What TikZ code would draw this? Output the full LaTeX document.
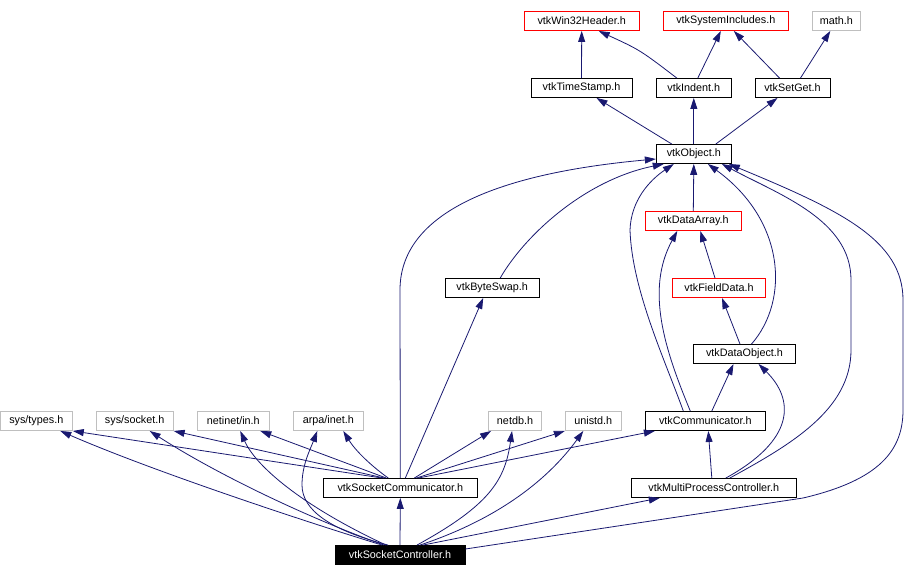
\documentclass[tikz,border=0pt]{standalone}
\usepackage{fontspec}
\setmainfont{Liberation Sans}
\usepackage{tikz}
\usetikzlibrary{arrows.meta}
\definecolor{cEdge}{RGB}{25,25,112}
\definecolor{cGrey}{RGB}{191,191,191}

\begin{document}
\begin{tikzpicture}[x=1pt, y=-1pt, font=\fontsize{10.8}{12}\selectfont,
	hdr/.style={draw=black, line width=0.9pt, fill=white, minimum height=19pt, inner sep=1pt},
	hdrred/.style={hdr, draw=red}, sysh/.style={hdr, draw=cGrey}, root/.style={hdr, fill=black, text=white},
	dep/.style={cEdge, line width=0.8pt, -{Triangle[length=11pt,width=7pt]}}]
	\useasboundingbox (0,0) rectangle (920,576);
	% headers, top to bottom
	\node[hdrred, minimum width=115] (win) at (581.7,21) {vtkWin32Header.h};
	\node[hdrred, minimum width=125] (sysinc) at (725.8,21) {vtkSystemIncludes.h};
	\node[sysh, minimum width=48] (math) at (836.3,21) {math.h};
	\node[hdr, minimum width=101] (tstamp) at (581.5,88) {vtkTimeStamp.h};
	\node[hdr, minimum width=75] (indent) at (693.8,88) {vtkIndent.h};
	\node[hdr, minimum width=75] (setget) at (792.5,88) {vtkSetGet.h};
	\node[hdr, minimum width=75] (object) at (693.8,154) {vtkObject.h};
	\node[hdrred, minimum width=96] (darray) at (693.3,221) {vtkDataArray.h};
	\node[hdr, minimum width=94] (bswap) at (492.2,288) {vtkByteSwap.h};
	\node[hdrred, minimum width=93] (fdata) at (719,288) {vtkFieldData.h};
	\node[hdr, minimum width=102] (dobj) at (744.5,354) {vtkDataObject.h};
	\node[sysh, minimum width=72] (types) at (36.3,421) {sys/types.h};
	\node[sysh, minimum width=77] (socket) at (134.7,421) {sys/socket.h};
	\node[sysh, minimum width=72] (netin) at (233.3,421) {netinet/in.h};
	\node[sysh, minimum width=70] (inet) at (328.3,421) {arpa/inet.h};
	\node[sysh, minimum width=53] (netdb) at (515,421) {netdb.h};
	\node[sysh, minimum width=56] (unistd) at (593.3,421) {unistd.h};
	\node[hdr, minimum width=120] (comm) at (705.3,421) {vtkCommunicator.h};
	\node[hdr, minimum width=154] (scomm) at (400.3,488) {vtkSocketCommunicator.h};
	\node[hdr, minimum width=165] (mpc) at (713.8,488) {vtkMultiProcessController.h};
	\node[root, minimum width=130] (sctrl) at (400,555) {vtkSocketController.h};
	% includes
	\draw[dep] (tstamp.north) -- (win.south);
	\draw[dep] ([xshift=-17]indent.north) .. controls (640,50) .. ([xshift=17]win.south);
	\draw[dep] ([xshift=4]indent.north) -- ([xshift=-5]sysinc.south);
	\draw[dep] ([xshift=-13]setget.north) -- ([xshift=8]sysinc.south);
	\draw[dep] ([xshift=8]setget.north) -- ([xshift=-6]math.south);
	\draw[dep] ([xshift=-22]object.north) -- ([xshift=15]tstamp.south);
	\draw[dep] (object.north) -- (indent.south);
	\draw[dep] ([xshift=22]object.north) -- ([xshift=-15]setget.south);
	\draw[dep] (darray.north) -- (object.south);
	\draw[dep] ([xshift=8]bswap.north) .. controls (525,235) and (585,180) .. ([xshift=-30]object.south);
	\draw[dep] ([xshift=-4]fdata.north) -- ([xshift=7]darray.south);
	\draw[dep] ([xshift=-4.5]dobj.north) -- ([xshift=3]fdata.south);
	\draw[dep] ([xshift=7]dobj.north) .. controls (790,300) and (785,220) .. ([xshift=14]object.south);
	\draw[dep] ([xshift=-22]comm.north) .. controls (665,360) and (632,290) .. (630,230) .. controls (631,200) and (650,180) .. ([xshift=-20]object.south);
	\draw[dep] ([xshift=-15]comm.north) .. controls (665,350) and (645,290) .. ([xshift=-16]darray.south);
	\draw[dep] ([xshift=6.5]comm.north) -- ([xshift=-11]dobj.south);
	\draw[dep] ([xshift=-2]mpc.north) -- ([xshift=3]comm.south);
	\draw[dep] ([xshift=12]mpc.north) .. controls (795,440) and (795,400) .. ([xshift=14]dobj.south);
	\draw[dep] ([xshift=16]mpc.north) .. controls (790,445) and (851,410) .. (851,350) -- (851,280) .. controls (851,220) and (780,195) .. ([xshift=28]object.south);
	\draw[dep] (scomm.north) -- (400,290) .. controls (400,220) and (480,175) .. ([yshift=-5]object.west);
	\draw[dep] ([xshift=5]scomm.north) -- ([xshift=-9]bswap.south);
	\draw[dep] ([xshift=-18]scomm.north) -- (types.south east);
	\draw[dep] ([xshift=-16]scomm.north) -- (socket.south east);
	\draw[dep] ([xshift=-14]scomm.north) -- ([xshift=27]netin.south);
	\draw[dep] ([xshift=-12]scomm.north) .. controls (370,465) and (355,450) .. ([xshift=15]inet.south);
	\draw[dep] ([xshift=14]scomm.north) -- ([xshift=3]netdb.south west);
	\draw[dep] ([xshift=16]scomm.north) -- (unistd.south west);
	\draw[dep] ([xshift=18]scomm.north) -- ([xshift=10]comm.south west);
	\draw[dep] (sctrl.north) -- (scomm.south);
	\draw[dep] ([xshift=-18]sctrl.north) .. controls (300,520) and (150,470) .. ([xshift=24]types.south);
	\draw[dep] ([xshift=-16]sctrl.north) .. controls (300,515) and (210,470) .. ([xshift=15]socket.south);
	\draw[dep] ([xshift=-14]sctrl.north) .. controls (300,505) and (255,465) .. ([xshift=7]netin.south);
	\draw[dep] ([xshift=-12]sctrl.north) .. controls (330,530) and (302,510) .. (302,485) .. controls (302,465) and (310,450) .. ([xshift=-11]inet.south);
	\draw[dep] ([xshift=17]sctrl.north) .. controls (490,505) and (505,480) .. ([xshift=-3]netdb.south);
	\draw[dep] ([xshift=20]sctrl.north) .. controls (510,515) and (555,470) .. ([xshift=-10]unistd.south);
	\draw[dep] ([xshift=23]sctrl.north) -- ([xshift=-54]mpc.south);
	\draw[dep] ([yshift=6]sctrl.east) -- (803,498) .. controls (880,480) and (903,450) .. (903,410) -- (903,300) .. controls (903,240) and (840,210) .. ([xshift=35]object.south);
\end{tikzpicture}
\end{document}
